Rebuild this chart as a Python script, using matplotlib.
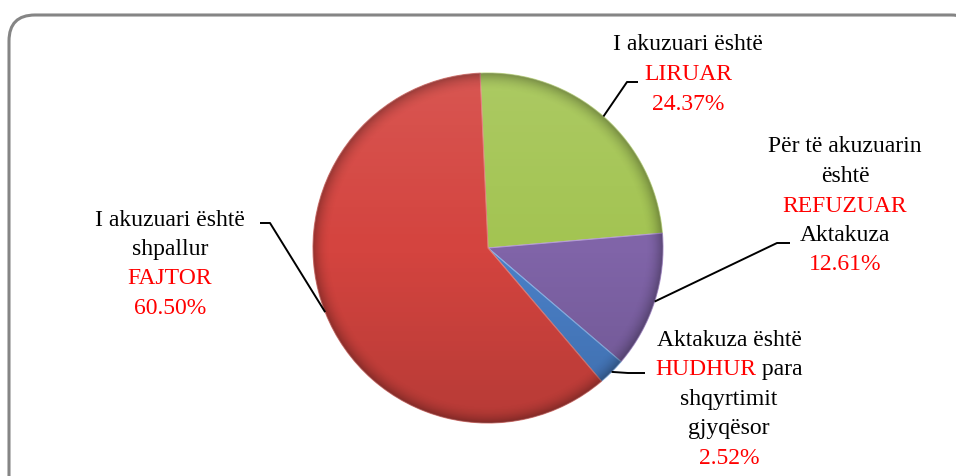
import numpy as np
import matplotlib
matplotlib.use("Agg")
import matplotlib.pyplot as plt
from matplotlib.patches import FancyBboxPatch, Circle
from matplotlib.offsetbox import TextArea, HPacker, AnnotationBbox

# te dhenat
categories = ["LIRUAR", "REFUZUAR", "HUDHUR", "FAJTOR"]
values = [24.37, 12.61, 2.52, 60.50]
colors = ["#a3c452", "#8064a8", "#4a80c8", "#d4443f"]
edge_colors = ["#c6df8a", "#b49ad6", "#8ab4e8", "#e07a76"]

RED = "#ff0000"
# rreshtat e etiketave: (tekst, ngjyre)
label_lines = [
    [[("I akuzuari është", "black")], [("LIRUAR", RED)], [("{pct}", RED)]],
    [[("Për të akuzuarin", "black")], [("është", "black")], [("REFUZUAR", RED)],
     [("Aktakuza", "black")], [("{pct}", RED)]],
    [[("Aktakuza është", "black")], [("HUDHUR", RED), (" para", "black")],
     [("shqyrtimit", "black")], [("gjyqësor", "black")], [("{pct}", RED)]],
    [[("I akuzuari është", "black")], [("shpallur", "black")], [("FAJTOR", RED)],
     [("{pct}", RED)]],
]

W, H = 956, 476
fig = plt.figure(figsize=(W / 100, H / 100), dpi=100)
ax = fig.add_axes([0, 0, 1, 1])
ax.set_xlim(0, W)
ax.set_ylim(0, H)
ax.set_aspect("equal")
ax.axis("off")

# korniza
frame = FancyBboxPatch((9, -40), 968, 40 + H - 15, boxstyle="round,pad=0,rounding_size=26",
                       facecolor="white", edgecolor="#858585", linewidth=2.2, zorder=0)
ax.add_patch(frame)

cx, cy, R = 488, H - 248, 175
start = 92.6
wedges, _ = ax.pie(values, colors=colors, startangle=start, counterclock=False,
                   center=(cx, cy), radius=R, frame=True,
                   wedgeprops=dict(linewidth=0.8))
for w, ec in zip(wedges, edge_colors):
    w.set_edgecolor(ec)
ax.set_xlim(0, W)
ax.set_ylim(0, H)
ax.axis("off")

# hijezim
n = 400
xs = np.linspace(-1, 1, n)
X, Y = np.meshgrid(xs, xs[::-1])
r = np.sqrt(X ** 2 + Y ** 2)
ext = (cx - R, cx + R, cy - R, cy + R)
shade = np.zeros((n, n, 4))
shade[..., 3] = np.clip(-Y, 0, 1) * 0.14
im1 = ax.imshow(shade, extent=ext, zorder=3, interpolation="bilinear")
im1.set_clip_path(Circle((cx, cy), R, transform=ax.transData))
light = np.ones((n, n, 4))
light[..., 3] = np.clip(Y, 0, 1) * 0.10
im2 = ax.imshow(light, extent=ext, zorder=3, interpolation="bilinear")
im2.set_clip_path(Circle((cx, cy), R, transform=ax.transData))
rim = np.zeros((n, n, 4))
rim[..., 3] = np.clip((r - 0.9) / 0.1, 0, 1) ** 2 * 0.28
im3 = ax.imshow(rim, extent=ext, zorder=3, interpolation="bilinear")
im3.set_clip_path(Circle((cx, cy), R, transform=ax.transData))
ax.set_xlim(0, W)
ax.set_ylim(0, H)

FONT = dict(family="Liberation Serif", size=17)

# pozicionet e etiketave (qendra x, y e rreshtit te pare, ne piksela nga lart)
label_pos = [(688, 45), (845, 147), (729, 340), (170, 220)]
line_h = 29.5
# thyerja e vijes udhezuese (x, y nga lart)
elbows = [[(627, 82), (638, 82)], [(777, 243), (790, 243)],
          [(628, 373), (645, 373)], [(270, 223), (260, 223)]]

total = sum(values)
acc = 0
for i, v in enumerate(values):
    mid = start - (acc + v / 2) / total * 360
    acc += v
    pct = f"{v:.2f}%"
    lx, ly = label_pos[i]
    for j, parts in enumerate(label_lines[i]):
        boxes = [TextArea(t.format(pct=pct), textprops=dict(color=c, **FONT)) for t, c in parts]
        pack = HPacker(children=boxes, align="baseline", pad=0, sep=0)
        ab = AnnotationBbox(pack, (lx, H - (ly + j * line_h)), frameon=False,
                            box_alignment=(0.5, 0.5), pad=0, zorder=5)
        ax.add_artist(ab)
    ax_pt = (cx + R * np.cos(np.radians(mid)), cy + R * np.sin(np.radians(mid)))
    pts = [ax_pt] + [(ex, H - ey) for ex, ey in elbows[i]]
    ax.plot([p[0] for p in pts], [p[1] for p in pts], color="black", lw=1.4, zorder=4,
            solid_capstyle="butt")

fig.savefig("out.png", dpi=100, facecolor="white")
